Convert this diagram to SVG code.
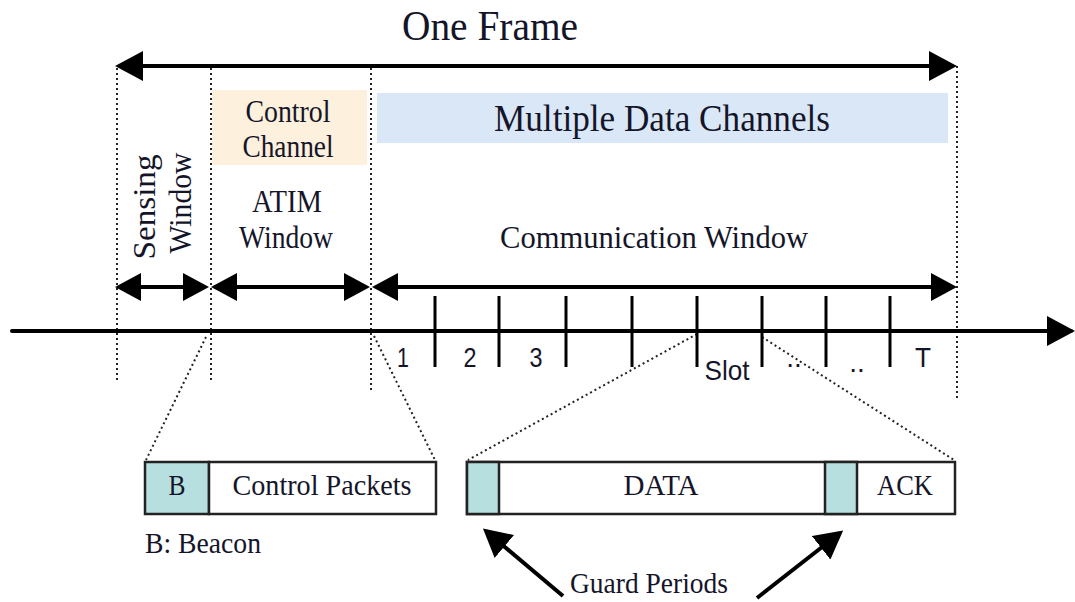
<svg xmlns="http://www.w3.org/2000/svg" width="1075" height="602" viewBox="0 0 1075 602">
<style>
.serif{font-family:'Liberation Serif','Times New Roman',Times,serif;fill:#15152a;}
.sans{font-family:'Liberation Sans',Arial,Helvetica,sans-serif;fill:#15152a;font-size:28px;}
.dot{stroke:#222;stroke-width:2;stroke-dasharray:2 3;fill:none;}
.thick{stroke:#000;stroke-width:4;fill:none;}
.tick{stroke:#000;stroke-width:3;}
.box{stroke:#222;stroke-width:2.5;fill:#fff;}
.guard{stroke:#222;stroke-width:2.5;fill:#b8dfe0;}
</style>
<defs>
<marker id="ah" markerUnits="userSpaceOnUse" markerWidth="28" markerHeight="30" refX="24" refY="15" orient="auto-start-reverse" viewBox="0 0 28 30">
<path d="M0,0 L28,15 L0,30 z" fill="#000"/>
</marker>
<marker id="ahs" markerUnits="userSpaceOnUse" markerWidth="26" markerHeight="28" refX="22" refY="14" orient="auto-start-reverse" viewBox="0 0 26 28">
<path d="M0,0 L26,14 L0,28 z" fill="#000"/>
</marker>
</defs>

<g id="title">
<text class="serif" x="490" y="40" font-size="42" text-anchor="middle" textLength="176" lengthAdjust="spacingAndGlyphs">One Frame</text>
</g>

<g id="control-channel">
<rect x="212" y="90" width="155" height="75" fill="#fdf0dc"/>
<text class="serif" x="288" y="122" font-size="32" text-anchor="middle" textLength="85" lengthAdjust="spacingAndGlyphs">Control</text>
<text class="serif" x="288" y="157" font-size="32" text-anchor="middle" textLength="91" lengthAdjust="spacingAndGlyphs">Channel</text>
</g>

<g id="data-channels">
<rect x="377" y="93" width="571" height="50" fill="#d9e7f6"/>
<text class="serif" x="662" y="131" font-size="38" text-anchor="middle" textLength="336" lengthAdjust="spacingAndGlyphs">Multiple Data Channels</text>
</g>

<g id="sensing-window">
<text class="serif" transform="translate(155,207) rotate(-90)" font-size="32" text-anchor="middle" textLength="105" lengthAdjust="spacingAndGlyphs">Sensing</text>
<text class="serif" transform="translate(191,203) rotate(-90)" font-size="32" text-anchor="middle" textLength="101" lengthAdjust="spacingAndGlyphs">Window</text>
</g>

<g id="atim-window">
<text class="serif" x="287" y="212" font-size="32" text-anchor="middle" textLength="70" lengthAdjust="spacingAndGlyphs">ATIM</text>
<text class="serif" x="286" y="248" font-size="32" text-anchor="middle" textLength="94" lengthAdjust="spacingAndGlyphs">Window</text>
</g>

<g id="communication-window">
<text class="serif" x="654" y="248" font-size="32" text-anchor="middle" textLength="308" lengthAdjust="spacingAndGlyphs">Communication Window</text>
</g>

<g id="slot-labels">
<text class="sans" x="403" y="367" text-anchor="middle" textLength="12" lengthAdjust="spacingAndGlyphs">1</text>
<text class="sans" x="470" y="367" text-anchor="middle" textLength="13" lengthAdjust="spacingAndGlyphs">2</text>
<text class="sans" x="536" y="367" text-anchor="middle" textLength="13" lengthAdjust="spacingAndGlyphs">3</text>
<text class="sans" x="727" y="380" text-anchor="middle" textLength="45" lengthAdjust="spacingAndGlyphs">Slot</text>
<text class="sans" x="794" y="367" text-anchor="middle">..</text>
<text class="sans" x="857" y="372" text-anchor="middle">..</text>
<text class="sans" x="923" y="367" text-anchor="middle" textLength="16" lengthAdjust="spacingAndGlyphs">T</text>
</g>

<g id="control-packets-box">
<rect class="guard" x="145" y="462" width="64" height="52"/>
<rect class="box" x="209" y="462" width="227" height="52"/>
<text class="serif" x="177" y="495" font-size="30" text-anchor="middle" textLength="17" lengthAdjust="spacingAndGlyphs">B</text>
<text class="serif" x="322" y="495" font-size="30" text-anchor="middle" textLength="179" lengthAdjust="spacingAndGlyphs">Control Packets</text>
</g>

<g id="beacon-legend">
<text class="serif" x="145" y="553" font-size="30" textLength="116" lengthAdjust="spacingAndGlyphs">B: Beacon</text>
</g>

<g id="slot-detail-box">
<rect class="box" x="467" y="462" width="488" height="52"/>
<rect class="guard" x="467" y="462" width="32" height="52"/>
<rect class="guard" x="825" y="462" width="32" height="52"/>
<text class="serif" x="661" y="495" font-size="30" text-anchor="middle" textLength="75" lengthAdjust="spacingAndGlyphs">DATA</text>
<text class="serif" x="905" y="495" font-size="30" text-anchor="middle" textLength="56" lengthAdjust="spacingAndGlyphs">ACK</text>
</g>

<g id="guard-periods">
<text class="serif" x="649" y="593" font-size="30" text-anchor="middle" textLength="158" lengthAdjust="spacingAndGlyphs">Guard Periods</text>
</g>

<g id="connectors">
<line class="dot" x1="117" y1="68" x2="117" y2="380"/>
<line class="dot" x1="211" y1="68" x2="211" y2="383"/>
<line class="dot" x1="371" y1="68" x2="371" y2="390"/>
<line class="dot" x1="957" y1="66" x2="957" y2="400" stroke-width="2.5"/>
<line class="dot" x1="206" y1="337" x2="146" y2="460"/>
<line class="dot" x1="374" y1="336" x2="435" y2="460"/>
<line class="dot" x1="697" y1="334" x2="468" y2="460"/>
<line class="dot" x1="762" y1="337" x2="954" y2="460"/>
<line class="thick" x1="119" y1="66" x2="953" y2="66" marker-start="url(#ah)" marker-end="url(#ah)"/>
<line class="thick" x1="119" y1="287" x2="205" y2="287" marker-start="url(#ahs)" marker-end="url(#ahs)"/>
<line class="thick" x1="215" y1="287" x2="366" y2="287" marker-start="url(#ahs)" marker-end="url(#ahs)"/>
<line class="thick" x1="376" y1="287" x2="953" y2="287" marker-start="url(#ahs)" marker-end="url(#ahs)"/>
<line class="thick" x1="12" y1="331" x2="1071" y2="331" stroke-linecap="round" marker-end="url(#ah)"/>
<line class="tick" x1="435" y1="296" x2="435" y2="367"/>
<line class="tick" x1="499" y1="296" x2="499" y2="367"/>
<line class="tick" x1="566" y1="296" x2="566" y2="367"/>
<line class="tick" x1="632" y1="296" x2="632" y2="367"/>
<line class="tick" x1="697" y1="296" x2="697" y2="367"/>
<line class="tick" x1="762" y1="296" x2="762" y2="367"/>
<line class="tick" x1="826" y1="296" x2="826" y2="367"/>
<line class="tick" x1="890" y1="296" x2="890" y2="367"/>
<line class="thick" x1="563" y1="596" x2="486" y2="531" marker-end="url(#ah)"/>
<line class="thick" x1="757" y1="598" x2="840" y2="533" marker-end="url(#ah)"/>
</g>
</svg>
